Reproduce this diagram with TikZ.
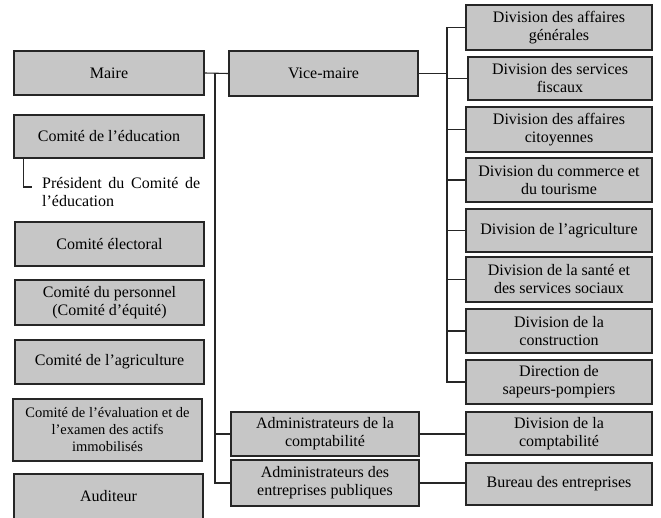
\documentclass[tikz,border=0pt]{standalone}
\usepackage{fontspec}
\setmainfont{Liberation Serif}
\begin{document}
\begin{tikzpicture}[x=1pt,y=-1pt,
  box/.style 2 args={draw=black!85, fill=boxgray, line width=1.4pt,
    minimum width=#1pt, minimum height=#2pt, inner sep=2pt,
    align=center, font=\fontsize{16}{18}\selectfont},
  conn/.style={draw=black!85, line width=1.1pt}]
\definecolor{boxgray}{HTML}{C6C6C6}
\useasboundingbox (0,0) rectangle (661,517);
% left column
\node[box={190}{44}] (maire) at (109,73) {Maire};
\node[box={190}{43}] (edu) at (109,136.5) {Comité de l’éducation};
\node[inner sep=0pt, anchor=north west, text width=158pt, align=justify,
  font=\fontsize{16}{18}\selectfont] (pres) at (42,177)
  {Président du Comité de\linebreak l’éducation};
\coordinate (bk) at (32,187);
\node[box={189}{44}] (elect) at (109.5,244) {Comité électoral};
\node[box={189}{45}] (perso) at (109.5,302.5) {Comité du personnel\\(Comité d’équité)};
\node[box={189}{44}] (agri) at (109.5,362) {Comité de l’agriculture};
\node[box={189}{62}, font=\fontsize{14.5}{17}\selectfont] (eval) at (107.5,430)
  {Comité de l’évaluation et de\\l’examen des actifs\\immobilisés};
\node[box={189}{60}, text depth=16pt] (audit) at (108.5,504) {Auditeur};
% middle column
\node[box={189}{45}] (vice) at (323.5,73.5) {Vice-maire};
\node[box={188}{44}] (adma) at (325,434) {Administrateurs de la\\comptabilité};
\node[box={188}{46}] (admb) at (325,483) {Administrateurs des\\entreprises publiques};
% right column
\node[box={186}{45}] (d1) at (559,27.5) {Division des affaires\\générales};
\node[box={184}{43}] (d2) at (560,78.5) {Division des services\\fiscaux};
\node[box={186}{45}] (d3) at (559,129.5) {Division des affaires\\citoyennes};
\node[box={186}{44}] (d4) at (559,180) {Division du commerce et\\du tourisme};
\node[box={186}{43}] (d5) at (559,230.5) {Division de l’agriculture};
\node[box={186}{45}] (d6) at (559,279.5) {Division de la santé et\\des services sociaux};
\node[box={186}{44}] (d7) at (559,331) {Division de la\\construction};
\node[box={186}{44}] (d8) at (559,382) {Direction de\\sapeurs-pompiers};
\node[box={186}{43}] (d9) at (559,433.5) {Division de la\\comptabilité};
\node[box={186}{42}] (d10) at (559,484) {Bureau des entreprises};
% connectors
\coordinate (mv) at (215,73);
\coordinate (vd) at (447,73.5);
\draw[conn] (maire.east) -- (vice.west);
\draw[conn] (mv) |- (adma.west);
\draw[conn] (mv) |- (admb.west);
\draw[conn] (vice.east) -- (vd);
\foreach \d in {d1,d2,d3,d4,d5,d6,d7,d8}
  \draw[conn] (vd) |- (\d.west);
\draw[conn] (adma.east) -- (adma.east -| d9.west);
\draw[conn] (admb.east) -- (admb.east -| d10.west);
\draw[conn] ([xshift=10pt]edu.south west) |- (bk);
\end{tikzpicture}
\end{document}
